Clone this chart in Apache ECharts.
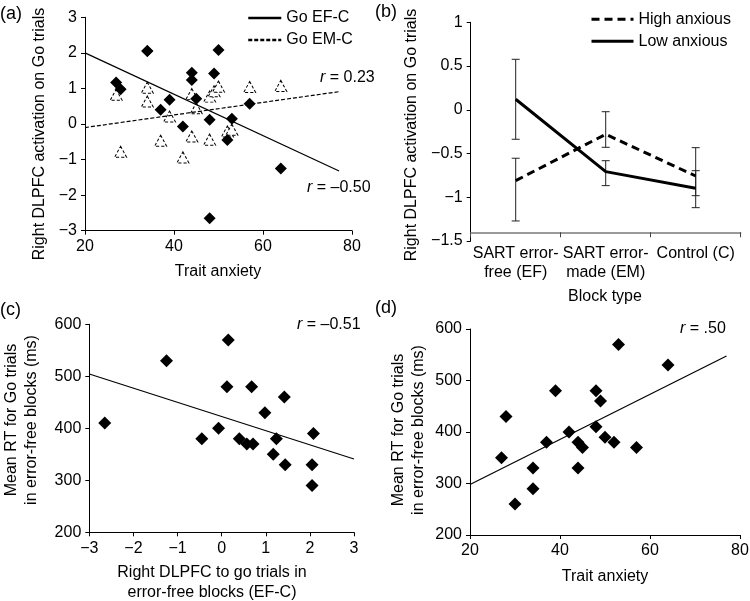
<!DOCTYPE html>
<html><head><meta charset="utf-8">
<script src="https://cdn.jsdelivr.net/npm/echarts@6/dist/echarts.min.js"></script>
<style>html,body{margin:0;padding:0;background:#fff}#c{width:750px;height:601px}</style>
</head><body><div id="c"></div>
<script>
// ---- data ----
const traitAnxiety = [27,28,30,34,34,37,39,42,44,44,45,48,48,49,50,52,53,57,64];
const meanRT       = [350,430,260,290,330,380,480,400,380,330,370,480,410,460,390,380,570,370,530];
const goEFC        = [1.17,0.98,null,2.05,2.05,0.40,0.68,-0.07,1.24,1.44,0.71,0.12,-2.65,1.42,2.08,-0.45,0.15,0.57,-1.25];
const goEMC        = [0.82,-0.78,null,1.02,0.63,-0.47,0.21,-0.94,-0.35,0.84,0.44,-0.44,0.77,0.92,1.05,-0.21,-0.16,1.04,1.07];

// fitted lines (end points)
const fitA_EF_x = [20, 77.1], fitA_EF_y = [2.0, -1.32];
const fitA_EM_x = [20, 77.1], fitA_EM_y = [-0.10, 0.91];
const fitC_x = [-3, 3],       fitC_y = [504.5, 341];
const fitD_x = [20, 77],      fitD_y = [298, 547.5];

// panel (b)
const blockTypes   = ['SART error-\nfree (EF)', 'SART error-\nmade (EM)', 'Control (C)'];
const highAnxMean  = [-0.81, -0.28, -0.757];
const highAnxLow   = [-1.271, -0.429, -1.119];
const highAnxHigh  = [-0.554, -0.022, -0.433];
const lowAnxMean   = [0.12, -0.707, -0.897];
const lowAnxLow    = [-0.337, -0.867, -0.982];
const lowAnxHigh   = [0.577, -0.582, -0.696];

// labels
const rLabelA_EM = '0.23', rLabelA_EF = '–0.50', rLabelC = '–0.51', rLabelD = '.50';

// ---- build ----
const FONT = 'Liberation Sans, Arial, sans-serif';
const pair = (xs, ys) => xs.map((x, i) => [x, ys[i]]).filter(p => p[0] !== null && p[1] !== null);
const minus = v => String(v).replace('-', '\u2212');

function axisCommon(extra) {
  return Object.assign({
    axisLine: { show: true, onZero: false, lineStyle: { color: '#000', width: 1 } },
    axisTick: { show: true, length: 4, lineStyle: { color: '#000', width: 1 } },
    splitLine: { show: false },
    axisLabel: { color: '#000', fontSize: 16, fontFamily: FONT, margin: 8, formatter: minus, hideOverlap: false }
  }, extra);
}

const chart = echarts.init(document.getElementById('c'), null, { renderer: 'canvas' });

function errRender(params, api) {
  const x = api.value(0);
  const lo = api.coord([x, api.value(1)]);
  const hi = api.coord([x, api.value(2)]);
  const hw = 4;
  const st = { stroke: '#222', lineWidth: 1 };
  return { type: 'group', children: [
    { type: 'line', shape: { x1: lo[0], y1: lo[1], x2: hi[0], y2: hi[1] }, style: st },
    { type: 'line', shape: { x1: lo[0] - hw, y1: lo[1], x2: lo[0] + hw, y2: lo[1] }, style: st },
    { type: 'line', shape: { x1: hi[0] - hw, y1: hi[1], x2: hi[0] + hw, y2: hi[1] }, style: st }
  ]};
}

const txt = (x, y, text, opts) => Object.assign({
  type: 'text', x: x, y: y,
  style: Object.assign({ text: text, fill: '#000', font: '16px ' + FONT, align: 'center', verticalAlign: 'middle' }, (opts && opts.style) || {})
}, opts && opts.rotation ? { rotation: opts.rotation } : {});

const rText = (x, y, val) => ({
  type: 'text', x: x, y: y,
  style: {
    text: '{i|r} = ' + val, fill: '#000', font: '16px ' + FONT, align: 'left', verticalAlign: 'middle',
    rich: { i: { fontStyle: 'italic', fontSize: 16, fontFamily: FONT, fill: '#000' } }
  }
});

const hiddenSym = { color: 'rgba(0,0,0,0)', borderColor: 'rgba(0,0,0,0)', borderWidth: 0 };

const option = {
  backgroundColor: '#fff',
  animation: false,
  textStyle: { fontFamily: FONT },
  grid: [
    { left: 85, top: 17.3, width: 267, height: 213.4, outerBoundsMode: 'none' },
    { left: 470.7, top: 22.3, width: 270, height: 218.7, outerBoundsMode: 'none' },
    { left: 89.3, top: 324.3, width: 264.7, height: 208, outerBoundsMode: 'none' },
    { left: 470, top: 329, width: 270, height: 206, outerBoundsMode: 'none' }
  ],
  xAxis: [
    axisCommon({ gridIndex: 0, type: 'value', min: 20, max: 80, interval: 20 }),
    axisCommon({ gridIndex: 1, type: 'category', data: blockTypes, boundaryGap: true, offset: -8.7,
      axisLine: { show: true, onZero: false, lineStyle: { color: '#7a7a7a', width: 1.5 } },
      axisTick: { show: true, length: 5, alignWithLabel: false, interval: 0, lineStyle: { color: '#444', width: 1 } },
      axisLabel: { color: '#000', fontSize: 16, fontFamily: FONT, margin: 12, lineHeight: 19, interval: 0, hideOverlap: false } }),
    axisCommon({ gridIndex: 2, type: 'value', min: -3, max: 3, interval: 1 }),
    axisCommon({ gridIndex: 3, type: 'value', min: 20, max: 80, interval: 20 })
  ],
  yAxis: [
    axisCommon({ gridIndex: 0, type: 'value', min: -3, max: 3, interval: 1 }),
    axisCommon({ gridIndex: 1, type: 'value', min: -1.5, max: 1, interval: 0.5 }),
    axisCommon({ gridIndex: 2, type: 'value', min: 200, max: 600, interval: 100 }),
    axisCommon({ gridIndex: 3, type: 'value', min: 200, max: 600, interval: 100 })
  ],
  legend: [
    { data: ['Go EF-C', 'Go EM-C'], orient: 'vertical', left: 242, top: 5, itemWidth: 33, itemHeight: 14, itemGap: 6,
      textStyle: { color: '#000', fontSize: 16, fontFamily: FONT }, lineStyle: { width: 2.5 }, itemStyle: hiddenSym, selectedMode: false },
    { data: ['High anxious', 'Low anxious'], orient: 'vertical', left: 585, top: 6.3, itemWidth: 42, itemHeight: 14, itemGap: 6,
      textStyle: { color: '#000', fontSize: 16, fontFamily: FONT }, lineStyle: { width: 3 }, itemStyle: hiddenSym, selectedMode: false }
  ],
  series: [
    // panel (a)
    { type: 'scatter', name: 'Go EM-C pts', xAxisIndex: 0, yAxisIndex: 0, symbol: 'triangle', symbolSize: [12, 11],
      data: pair(traitAnxiety, goEMC),
      itemStyle: { color: '#fff', borderColor: '#000', borderWidth: 1, borderType: [3, 2], opacity: 1 } },
    { type: 'scatter', name: 'Go EF-C pts', xAxisIndex: 0, yAxisIndex: 0, symbol: 'diamond', symbolSize: 12,
      data: pair(traitAnxiety, goEFC), itemStyle: { color: '#000', opacity: 1 } },
    { type: 'line', name: 'Go EF-C', xAxisIndex: 0, yAxisIndex: 0, symbol: 'none', data: pair(fitA_EF_x, fitA_EF_y),
      lineStyle: { color: '#000', width: 1.2 }, itemStyle: { color: '#000' } },
    { type: 'line', name: 'Go EM-C', xAxisIndex: 0, yAxisIndex: 0, symbol: 'none', data: pair(fitA_EM_x, fitA_EM_y),
      lineStyle: { color: '#000', width: 1.2, type: [4, 2] }, itemStyle: { color: '#000' } },
    // panel (b)
    { type: 'custom', name: 'High err', xAxisIndex: 1, yAxisIndex: 1, renderItem: errRender,
      data: highAnxMean.map((m, i) => [i, highAnxLow[i], highAnxHigh[i]]), encode: { x: 0, y: [1, 2] } },
    { type: 'custom', name: 'Low err', xAxisIndex: 1, yAxisIndex: 1, renderItem: errRender,
      data: lowAnxMean.map((m, i) => [i, lowAnxLow[i], lowAnxHigh[i]]), encode: { x: 0, y: [1, 2] } },
    { type: 'line', name: 'High anxious', xAxisIndex: 1, yAxisIndex: 1, symbol: 'none', data: highAnxMean,
      lineStyle: { color: '#000', width: 3, type: [8, 5] }, itemStyle: { color: '#000' } },
    { type: 'line', name: 'Low anxious', xAxisIndex: 1, yAxisIndex: 1, symbol: 'none', data: lowAnxMean,
      lineStyle: { color: '#000', width: 3 }, itemStyle: { color: '#000' } },
    // panel (c)
    { type: 'scatter', name: 'c pts', xAxisIndex: 2, yAxisIndex: 2, symbol: 'diamond', symbolSize: 13,
      data: pair(goEFC, meanRT), itemStyle: { color: '#000', opacity: 1 } },
    { type: 'line', name: 'c fit', xAxisIndex: 2, yAxisIndex: 2, symbol: 'none', data: pair(fitC_x, fitC_y),
      lineStyle: { color: '#000', width: 1.2 } },
    // panel (d)
    { type: 'scatter', name: 'd pts', xAxisIndex: 3, yAxisIndex: 3, symbol: 'diamond', symbolSize: 13,
      data: pair(traitAnxiety, meanRT), itemStyle: { color: '#000', opacity: 1 } },
    { type: 'line', name: 'd fit', xAxisIndex: 3, yAxisIndex: 3, symbol: 'none', data: pair(fitD_x, fitD_y),
      lineStyle: { color: '#000', width: 1.2 } }
  ],
  graphic: [
    txt(0, 14, '(a)', { style: { align: 'left', font: '18px ' + FONT } }),
    txt(375, 12, '(b)', { style: { align: 'left', font: '18px ' + FONT } }),
    txt(0, 310, '(c)', { style: { align: 'left', font: '18px ' + FONT } }),
    txt(375, 308, '(d)', { style: { align: 'left', font: '18px ' + FONT } }),
    txt(40, 134, 'Right DLPFC activation on Go trials', { rotation: Math.PI / 2 }),
    txt(218, 272, 'Trait anxiety'),
    txt(411.7, 135, 'Right DLPFC activation on Go trials', { rotation: Math.PI / 2 }),
    txt(605, 297, 'Block type'),
    txt(22, 420, 'Mean RT for Go trials\nin error-free blocks (ms)', { rotation: Math.PI / 2, style: { lineHeight: 20 } }),
    txt(212, 583, 'Right DLPFC to go trials in\nerror-free blocks (EF-C)', { style: { lineHeight: 20 } }),
    txt(409, 430, 'Mean RT for Go trials\nin error-free blocks (ms)', { rotation: Math.PI / 2, style: { lineHeight: 20 } }),
    txt(605, 577, 'Trait anxiety'),
    rText(320, 78, rLabelA_EM),
    rText(307, 188, rLabelA_EF),
    rText(297, 325, rLabelC),
    rText(680, 329, rLabelD)
  ]
};
chart.setOption(option);
</script>
</body></html>
